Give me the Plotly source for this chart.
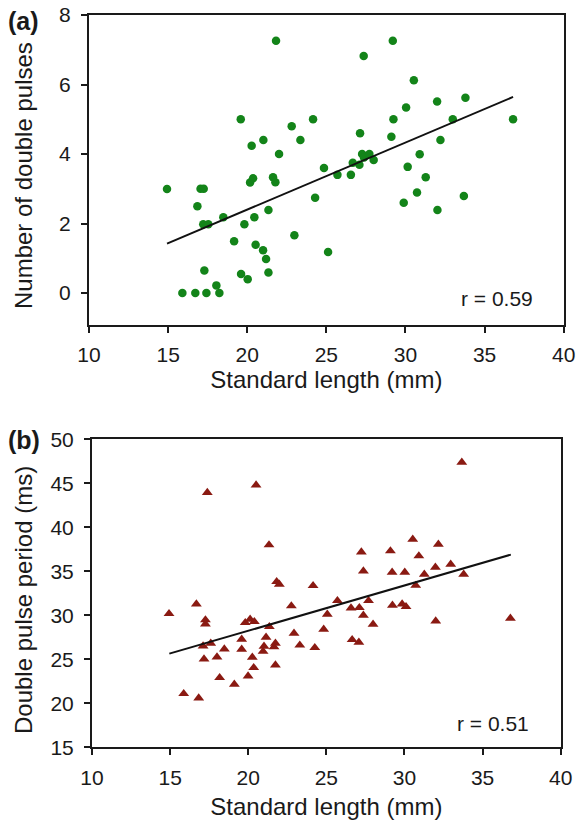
import plotly.graph_objects as go

# ---------------- data ----------------
# Panel (a): standard length (mm) vs number of double pulses
length_a = [14.93, 15.90, 16.72, 16.85, 17.05, 17.25, 17.22, 17.29, 17.42, 17.54,
            18.05, 18.24, 18.49, 19.17, 19.59, 19.61, 19.82, 20.03, 20.18, 20.28,
            20.37, 20.45, 20.53, 21.00, 21.02, 21.19, 21.34, 21.34, 21.63, 21.78,
            21.82, 22.01, 22.81, 22.98, 23.36, 24.16, 24.29, 24.85, 25.11, 25.70,
            26.55, 26.67, 27.09, 27.13, 27.26, 27.36, 27.38, 27.72, 27.99, 29.11,
            29.20, 29.24, 29.89, 30.04, 30.14, 30.53, 30.73, 30.90, 31.28, 32.00,
            32.02, 32.21, 32.99, 33.69, 33.79, 36.80]
pulses_a = [2.99, 0.00, 0.00, 2.50, 3.00, 3.00, 1.98, 0.65, 0.00, 1.98,
            0.22, 0.00, 2.18, 1.49, 5.00, 0.55, 1.98, 0.40, 3.18, 4.24,
            3.30, 2.18, 1.39, 1.23, 4.40, 0.98, 2.39, 0.59, 3.33, 3.19,
            7.26, 4.00, 4.80, 1.66, 4.40, 5.00, 2.74, 3.60, 1.18, 3.40,
            3.40, 3.75, 3.69, 4.60, 4.00, 6.82, 3.90, 4.00, 3.83, 4.50,
            7.26, 5.00, 2.60, 5.34, 3.63, 6.12, 2.89, 3.99, 3.33, 5.51,
            2.39, 4.40, 5.00, 2.79, 5.62, 5.00]
fit_a_slope = 0.193
fit_a_intercept = -1.46
fit_a_range = [14.93, 36.80]
r_a = "r = 0.59"

# Panel (b): standard length (mm) vs double pulse period (ms)
length_b = [14.93, 15.87, 16.68, 16.83, 17.11, 17.17, 17.26, 17.26, 17.38, 17.60,
            18.00, 18.17, 18.47, 19.11, 19.58, 19.58, 19.81, 19.99, 20.12, 20.26,
            20.35, 20.39, 20.50, 20.95, 21.01, 21.14, 21.33, 21.35, 21.65, 21.74,
            21.74, 21.82, 21.99, 22.76, 22.93, 23.30, 24.15, 24.26, 24.83, 25.06,
            25.71, 26.58, 26.65, 27.08, 27.11, 27.24, 27.37, 27.37, 27.70, 27.99,
            29.10, 29.21, 29.23, 29.85, 30.02, 30.10, 30.53, 30.72, 30.92, 31.27,
            31.98, 32.00, 32.17, 32.96, 33.67, 33.79, 36.78]
period_b = [30.18, 21.09, 31.28, 20.60, 26.51, 25.03, 29.47, 29.00, 43.95, 26.82,
            25.26, 22.91, 26.17, 22.16, 27.27, 26.14, 29.16, 23.10, 29.55, 25.23,
            24.05, 29.27, 44.80, 25.90, 26.48, 27.50, 38.00, 28.70, 26.40, 26.82,
            24.35, 33.82, 33.52, 31.06, 27.95, 26.60, 33.36, 26.32, 28.41, 30.11,
            31.66, 30.83, 27.23, 26.93, 30.86, 37.19, 35.03, 30.00, 31.66, 28.98,
            37.31, 34.89, 31.14, 31.28, 34.89, 30.98, 38.64, 33.40, 36.74, 34.66,
            35.45, 29.35, 38.07, 35.80, 47.39, 34.66, 29.66]
fit_b_slope = 0.5146
fit_b_intercept = 17.95
fit_b_range = [14.95, 36.81]
r_b = "r = 0.51"

x_ticks = [10, 15, 20, 25, 30, 35, 40]
y_ticks_a = [0, 2, 4, 6, 8]
y_ticks_b = [15, 20, 25, 30, 35, 40, 45, 50]
x_title = "Standard length (mm)"
y_title_a = "Number of double pulses"
y_title_b = "Double pulse period (ms)"

# ---------------- styling ----------------
W, H = 577, 825
FONT = "Liberation Sans, Arial, Helvetica, sans-serif"
GREEN = "#138419"
RED = "#8a1a12"
AX = "#1a1a1a"

fit_a_y = [fit_a_intercept + fit_a_slope * x for x in fit_a_range]
fit_b_y = [fit_b_intercept + fit_b_slope * x for x in fit_b_range]

fig = go.Figure()
fig.add_trace(go.Scatter(x=length_a, y=pulses_a, mode="markers",
                         marker=dict(symbol="circle", size=8.5, color=GREEN),
                         xaxis="x", yaxis="y", showlegend=False))
fig.add_trace(go.Scatter(x=fit_a_range, y=fit_a_y, mode="lines",
                         line=dict(color="#111111", width=2),
                         xaxis="x", yaxis="y", showlegend=False))
fig.add_trace(go.Scatter(x=length_b, y=period_b, mode="markers",
                         marker=dict(symbol="triangle-up", size=9.5, color=RED),
                         xaxis="x2", yaxis="y2", showlegend=False))
fig.add_trace(go.Scatter(x=fit_b_range, y=fit_b_y, mode="lines",
                         line=dict(color="#111111", width=2),
                         xaxis="x2", yaxis="y2", showlegend=False))


def xax(domain, anchor, standoff):
    return dict(domain=domain, anchor=anchor, range=[10, 40], tickvals=x_ticks,
                showline=True, linecolor=AX, linewidth=2, mirror=True,
                ticks="outside", ticklen=6, tickwidth=2, tickcolor=AX,
                showgrid=False, zeroline=False, automargin=False,
                tickfont=dict(family=FONT, size=21, color=AX),
                ticklabelstandoff=4,
                title=dict(text=x_title,
                           font=dict(family=FONT, size=24, color=AX),
                           standoff=standoff))


def yax(domain, anchor, rng, ticks):
    return dict(domain=domain, anchor=anchor, range=rng, tickvals=ticks,
                showline=True, linecolor=AX, linewidth=2, mirror=True,
                ticks="outside", ticklen=6, tickwidth=2, tickcolor=AX,
                showgrid=False, zeroline=False, automargin=False,
                tickfont=dict(family=FONT, size=21, color=AX),
                ticklabelstandoff=6)


def ytitle(text, ypix):
    return dict(text=text, x=23 / W, y=1 - ypix / H, xref="paper", yref="paper",
                xanchor="center", yanchor="middle", textangle=-90,
                showarrow=False, font=dict(family=FONT, size=24, color=AX))


fig.update_layout(
    width=W, height=H,
    margin=dict(l=0, r=0, t=0, b=0),
    paper_bgcolor="white", plot_bgcolor="white",
    xaxis=xax([89 / W, 563.7 / W], "y", 6),
    yaxis=yax([1 - 325 / H, 1 - 15 / H], "x", [-0.92, 8], y_ticks_a),
    xaxis2=xax([92 / W, 560.7 / W], "y2", 11),
    yaxis2=yax([1 - 747.3 / H, 1 - 439.3 / H], "x2", [15, 50], y_ticks_b),
    annotations=[
        ytitle(y_title_a, 176),
        ytitle(y_title_b, 600),
        dict(text="<b>(a)</b>", x=6 / W, y=1 - 21 / H, xref="paper", yref="paper",
             xanchor="left", yanchor="middle", showarrow=False,
             font=dict(family=FONT, size=25, color=AX)),
        dict(text="<b>(b)</b>", x=6 / W, y=1 - 440 / H, xref="paper", yref="paper",
             xanchor="left", yanchor="middle", showarrow=False,
             font=dict(family=FONT, size=25, color=AX)),
        dict(text=r_a, x=0.94, y=0.087, xref="x domain", yref="y domain",
             xanchor="right", yanchor="middle", showarrow=False,
             font=dict(family=FONT, size=21, color=AX)),
        dict(text=r_b, x=0.936, y=0.0757, xref="x2 domain", yref="y2 domain",
             xanchor="right", yanchor="middle", showarrow=False,
             font=dict(family=FONT, size=21, color=AX)),
    ],
)

fig.write_html("out.html")
